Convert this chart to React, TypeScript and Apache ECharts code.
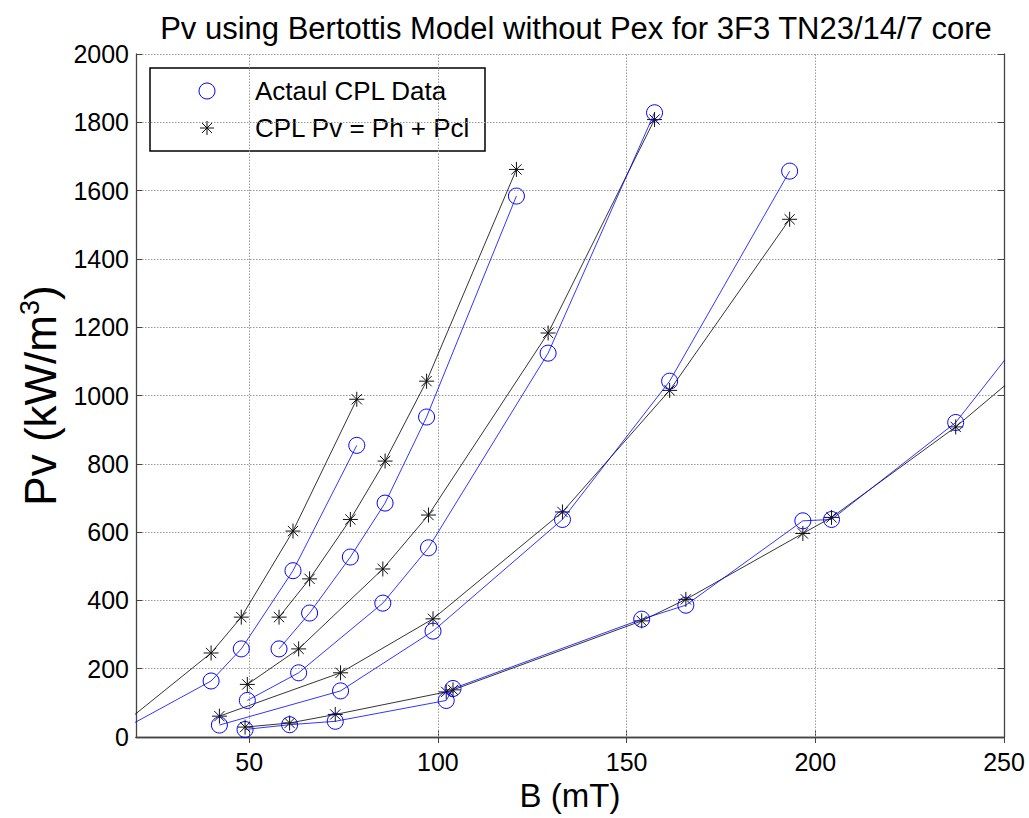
import React, { useEffect, useRef } from "react";
import * as echarts from "echarts";

// ---- data (B in mT, Pv in kW/m^3) ----
const B_A = [15, 39.9, 47.9, 61.6, 78.5];
const ACT_A = [14, 164, 258, 487, 854];
const MOD_A = [24, 246, 351, 603, 989];

const B_B = [57.9, 66.0, 76.8, 86.0, 97.0, 120.8];
const ACT_B = [258, 363, 527, 685, 937, 1584];
const MOD_B = [351, 463, 637, 808, 1042, 1662];

const B_C = [49.5, 63.1, 85.4, 97.5, 129.2, 157.4];
const ACT_C = [107, 188, 392, 554, 1124, 1828];
const MOD_C = [154, 258, 492, 650, 1183, 1808];

const B_D = [42.1, 74.2, 98.7, 133.0, 161.4, 193.2];
const ACT_D = [35, 135, 310, 637, 1042, 1657];
const MOD_D = [61, 188, 346, 659, 1015, 1516];

const B_E = [48.9, 60.7, 72.8, 102.2, 104.0, 154.0, 165.7, 196.7, 204.3, 237.2, 270];
const ACT_E = [22, 36, 46, 107, 142, 345, 386, 633, 637, 921, 1382];
const MOD_E = [29, 41, 66, 132, 138, 340, 403, 596, 643, 908, 1213];

const X_TICKS = [50, 100, 150, 200, 250];
const X_GRID = [50, 100, 150, 200];

const TITLE = "Pv using Bertottis Model without Pex for 3F3 TN23/14/7 core";
const NAME_ACT = "Actaul CPL Data";
const NAME_MOD = "CPL Pv = Ph + Pcl";

const FONT = "'Liberation Sans', Arial, Helvetica, sans-serif";
const STAR = "path://M7,0 L7,14 M0,7 L14,7 M2.2,2.2 L11.8,11.8 M2.2,11.8 L11.8,2.2";

const groups = [
  { b: B_A, act: ACT_A, mod: MOD_A },
  { b: B_B, act: ACT_B, mod: MOD_B },
  { b: B_C, act: ACT_C, mod: MOD_C },
  { b: B_D, act: ACT_D, mod: MOD_D },
  { b: B_E, act: ACT_E, mod: MOD_E },
];

export default function App() {
  const ref = useRef<HTMLDivElement>(null);
  useEffect(() => {
    if (!ref.current) return;
    const chart = echarts.init(ref.current, undefined, { renderer: "svg" });

    const series: any[] = [];
    groups.forEach((g, gi) => {
      series.push({
        type: "line",
        name: NAME_MOD,
        data: g.b.map((b, i) => [b, g.mod[i]]),
        symbol: STAR,
        symbolSize: 15,
        symbolKeepAspect: true,
        showAllSymbol: true,
        clip: true,
        lineStyle: { color: "#000", width: 0.8 },
        itemStyle: { color: "transparent", borderColor: "#111", borderWidth: 1 },
        emphasis: { disabled: true },
        z: 3,
        markLine:
          gi === 0
            ? {
                silent: true,
                symbol: "none",
                label: { show: false },
                lineStyle: { color: "#999", type: [1.5, 1.5], width: 1 },
                data: X_GRID.map((v) => ({ xAxis: v })),
                z: 1,
              }
            : undefined,
      });
      series.push({
        type: "line",
        name: NAME_ACT,
        data: g.b.map((b, i) => [b, g.act[i]]),
        symbol: "circle",
        symbolSize: 16,
        showAllSymbol: true,
        clip: true,
        lineStyle: { color: "#0000ff", width: 0.8 },
        itemStyle: { color: "transparent", borderColor: "#0000ff", borderWidth: 1 },
        emphasis: { disabled: true },
        z: 4,
      });
    });

    const axisLine = { show: true, lineStyle: { color: "#444", width: 1.3 } };
    chart.setOption({
      animation: false,
      backgroundColor: "#fff",
      textStyle: { fontFamily: FONT, color: "#000" },
      grid: { left: 136, width: 868, top: 54, height: 683, containLabel: false },
      title: {
        text: TITLE,
        left: 571,
        textAlign: "center",
        top: 8,
        textStyle: { fontFamily: FONT, fontSize: 31, fontWeight: "normal", color: "#000" },
      },
      xAxis: [
        {
          type: "value",
          min: 20,
          max: 250,
          position: "bottom",
          name: "B (mT)",
          nameLocation: "middle",
          nameGap: 41,
          nameTextStyle: { fontSize: 33, fontFamily: FONT, color: "#000" },
          axisLine,
          axisTick: { show: true, inside: true, length: 6, customValues: X_TICKS, lineStyle: { color: "#444" } },
          axisLabel: { show: true, customValues: X_TICKS, fontSize: 25, color: "#000", margin: 12, fontFamily: FONT },
          splitLine: { show: false },
        },
        {
          type: "value",
          min: 20,
          max: 250,
          position: "top",
          axisLine,
          axisTick: { show: true, inside: true, length: 6, customValues: X_TICKS, lineStyle: { color: "#444" } },
          axisLabel: { show: false },
          splitLine: { show: false },
        },
      ],
      yAxis: [
        {
          type: "value",
          min: 0,
          max: 2000,
          interval: 200,
          position: "left",
          name: "Pv (kW/m{sup|3})",
          nameLocation: "middle",
          nameRotate: 90,
          nameGap: 68,
          nameTextStyle: {
            fontSize: 44,
            fontFamily: FONT,
            color: "#000",
            rich: { sup: { fontSize: 27, fontFamily: FONT, padding: [0, 0, 20, 0] } },
          },
          axisLine,
          axisTick: { show: true, inside: true, length: 6, lineStyle: { color: "#444" } },
          axisLabel: {
            fontSize: 25,
            color: "#000",
            margin: 7,
            fontFamily: FONT,
            formatter: (v: number) => String(v),
          },
          splitLine: { show: true, lineStyle: { color: "#999", type: [1.5, 1.5], width: 1 } },
        },
        {
          type: "value",
          min: 0,
          max: 2000,
          interval: 200,
          position: "right",
          axisLine,
          axisTick: { show: true, inside: true, length: 6, lineStyle: { color: "#444" } },
          axisLabel: { show: false },
          splitLine: { show: false },
        },
      ],
      series,
      graphic: [
        {
          type: "group",
          z: 100,
          children: [
            {
              type: "rect",
              shape: { x: 150, y: 68, width: 335, height: 83 },
              style: { fill: "#fff", stroke: "#000", lineWidth: 1.5 },
            },
            {
              type: "circle",
              shape: { cx: 207, cy: 91, r: 8 },
              style: { fill: "none", stroke: "#0000ff", lineWidth: 1 },
            },
            { type: "line", shape: { x1: 207, y1: 121, x2: 207, y2: 135 }, style: { stroke: "#111", lineWidth: 1 } },
            { type: "line", shape: { x1: 200, y1: 128, x2: 214, y2: 128 }, style: { stroke: "#111", lineWidth: 1 } },
            { type: "line", shape: { x1: 202, y1: 123, x2: 212, y2: 133 }, style: { stroke: "#111", lineWidth: 1 } },
            { type: "line", shape: { x1: 202, y1: 133, x2: 212, y2: 123 }, style: { stroke: "#111", lineWidth: 1 } },
            {
              type: "text",
              x: 255,
              y: 91,
              style: { text: NAME_ACT, font: `26px ${FONT}`, fill: "#000", verticalAlign: "middle", align: "left" },
            },
            {
              type: "text",
              x: 255,
              y: 128,
              style: { text: NAME_MOD, font: `26px ${FONT}`, fill: "#000", verticalAlign: "middle", align: "left" },
            },
          ],
        },
      ],
    });
    return () => chart.dispose();
  }, []);

  return (
    <div
      ref={ref}
      style={{ position: "fixed", left: 0, top: 0, width: 1029, height: 818, background: "#fff" }}
    />
  );
}
